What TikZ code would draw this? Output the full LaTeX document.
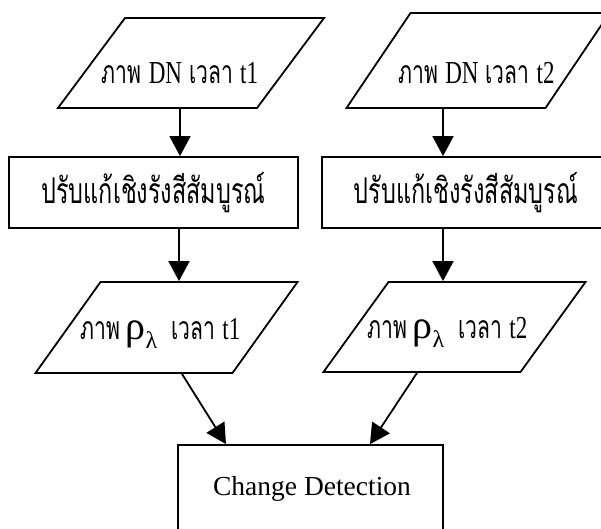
\documentclass[tikz,border=0pt]{standalone}
\usepackage{fontspec}
\setmainfont{Liberation Serif}
\newfontfamily\thaifont[Script=Thai,FakeStretch=0.66]{Loma}
\newfontfamily\narrowfont[FakeStretch=0.72]{Liberation Serif}
\newcommand\latn[1]{{\narrowfont #1}}
\newcommand\rhol{{\rmfamily\fontsize{40}{40}\selectfont ρ\raisebox{-9pt}{\fontsize{24}{24}\selectfont λ}}}
\usetikzlibrary{arrows.meta,shapes.geometric}

\begin{document}
\begin{tikzpicture}[x=1pt,y=-1pt,line width=1.8pt,inner sep=0pt,
  para/.style n args={4}{trapezium,draw,trapezium left angle=#1,trapezium right angle=#2,inner xsep=#3,inner ysep=#4},
  box/.style={rectangle,draw,minimum width=289pt,minimum height=71pt},
  flow/.style={-{Triangle[length=20pt,width=21pt]}},
  txt/.style={anchor=base,font=\fontsize{32}{36}\thaifont\selectfont}]
\useasboundingbox (0,0) rectangle (601,528);
\clip (0,0) rectangle (601,528);

% input images
\node[para={53.33}{126.67}{66pt}{45pt}] (dn1) at (191,63) {};
\node[para={56.03}{123.97}{67.5pt}{47.5pt}] (dn2) at (478,60.5) {};
\node[txt] (dn1t) at (180,83) {ภาพ \latn{DN} เวลา \latn{t1}};
\node[txt] (dn2t) at (476.5,83) {ภาพ \latn{DN} เวลา \latn{t2}};

% correction
\node[box] (rad1) at (153.5,192.5) {};
\node[box] (rad2) at (466.5,192.5) {};
\node[txt,font=\fontsize{35.5}{38}\thaifont\selectfont] (rad1t) at (153.5,203) {ปรับแก้เชิงรังสีสัมบูรณ์};
\node[txt,font=\fontsize{35.5}{38}\thaifont\selectfont] (rad2t) at (466,203) {ปรับแก้เชิงรังสีสัมบูรณ์};

% reflectance images
\node[para={54.46}{125.54}{66pt}{45.5pt}] (rho1) at (166.5,327.5) {};
\node[para={54.16}{125.84}{66pt}{45pt}] (rho2) at (454.5,327) {};
\node[txt] (rho1t) at (160.5,339) {ภาพ\,\rhol\ \ เวลา \latn{t1}};
\node[txt] (rho2t) at (447.5,338) {ภาพ\,\rhol\ \ เวลา \latn{t2}};

% result
\node[box,minimum width=265pt,minimum height=86pt] (cd) at (310.5,488) {};
\node[anchor=base,font=\fontsize{27.5}{30}\selectfont] (cdt) at (312,495) {Change Detection};

\draw[flow] ([xshift=-11pt]dn1.south) -- ([xshift=26.5pt]rad1.north);
\draw[flow] ([xshift=-35pt]dn2.south) -- ([xshift=-23.5pt]rad2.north);
\draw[flow] ([xshift=25.5pt]rad1.south) -- ([xshift=12.5pt]rho1.north);
\draw[flow] ([xshift=-23.5pt]rad2.south) -- ([xshift=-11.5pt]rho2.north);
\draw[flow] ([xshift=15.5pt]rho1.south) -- ([xshift=-84.5pt]cd.north);
\draw[flow] ([xshift=-37.5pt]rho2.south) -- ([xshift=59.5pt]cd.north);
\end{tikzpicture}
\end{document}
